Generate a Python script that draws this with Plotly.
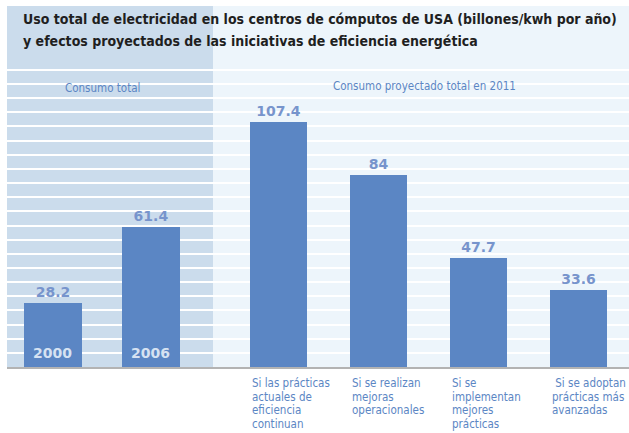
import plotly.graph_objects as go

# ---- data ----
years = ["2000", "2006"]
hist_values = [28.2, 61.4]
scenario_lines = [
    ["Si las prácticas", "actuales de", "eficiencia", "continuan"],
    ["Si se realizan", "mejoras", "operacionales"],
    ["Si se", "implementan", "mejores", "prácticas"],
    [" Si se adoptan", "prácticas más", "avanzadas"],
]
scenarios = [" ".join(l) for l in scenario_lines]
proj_values = [107.4, 84, 47.7, 33.6]
title_lines = [
    "Uso total de electricidad en los centros de cómputos de USA (billones/kwh por año)",
    "y efectos proyectados de las iniciativas de eficiencia energética",
]
left_label = "Consumo total"
right_label = "Consumo proyectado total en 2011"

# ---- styling ----
W, H = 629, 433
TOP, BOTTOM = 66, 367
PLOT_H = BOTTOM - TOP
K = 2.28  # px per unit
YMAX = PLOT_H / K
BAR = "#5b86c4"
LEFT_BG = "#cbdcec"
RIGHT_BG = "#edf5fb"
VAL_C = "#7794cc"
NARROW = "DejaVu Sans Condensed, Roboto, sans-serif"
TITLEF = "DejaVu Sans Condensed, Roboto, sans-serif"
WIDE = "DejaVu Sans, Verdana, sans-serif"

fig = go.Figure()
fig.add_trace(go.Bar(
    x=years, y=hist_values, xaxis="x", yaxis="y", width=0.59,
    marker=dict(color=BAR, line=dict(width=0)),
    texttemplate="%{y}", textposition="outside", cliponaxis=False,
    textfont=dict(family=WIDE, size=14, color=VAL_C, weight="bold"),
    hoverinfo="skip",
))
fig.add_trace(go.Bar(
    x=scenarios, y=proj_values, xaxis="x2", yaxis="y2", width=0.57,
    marker=dict(color=BAR, line=dict(width=0)),
    texttemplate="%{y}", textposition="outside", cliponaxis=False,
    textfont=dict(family=WIDE, size=14, color=VAL_C, weight="bold"),
    hoverinfo="skip",
))

yax = dict(range=[0, YMAX], showgrid=True, gridcolor="white", gridwidth=2,
           tick0=0, dtick=14.15 / K, showticklabels=False, zeroline=False,
           showline=False, ticks="")
xax = dict(type="category", showticklabels=False, showgrid=False, ticks="",
           showline=True, linecolor="#b3b3b3", linewidth=2, zeroline=False)

fig.update_layout(
    width=W, height=H, margin=dict(l=0, r=0, t=TOP, b=H - BOTTOM),
    paper_bgcolor="white", plot_bgcolor="rgba(0,0,0,0)",
    showlegend=False, bargap=0,
    xaxis=dict(xax, domain=[7 / W, 213 / W], range=[-0.469, 1.633], anchor="y"),
    xaxis2=dict(xax, domain=[213 / W, 1], range=[-0.655, 3.505], anchor="y2"),
    yaxis=dict(yax, anchor="x"),
    yaxis2=dict(yax, anchor="x2"),
)

ytop = (BOTTOM - 6) / PLOT_H
fig.add_shape(type="rect", xref="paper", yref="paper", x0=7 / W, x1=213 / W,
              y0=0, y1=ytop, fillcolor=LEFT_BG, line=dict(width=0), layer="below")
fig.add_shape(type="rect", xref="paper", yref="paper", x0=213 / W, x1=1,
              y0=0, y1=ytop, fillcolor=RIGHT_BG, line=dict(width=0), layer="below")

# year labels inside bars (category index positions)
for i, yr in enumerate(years):
    fig.add_annotation(x=i, y=0, xref="x", yref="y", yanchor="bottom", yshift=4,
                       text=yr, showarrow=False,
                       font=dict(family=WIDE, size=14, color="#d6e2f2", weight="bold"))

# scenario labels below bars
for j, lines in enumerate(scenario_lines):
    for i, ln in enumerate(lines):
        fig.add_annotation(x=j, y=0, xref="x2", yref="y2", xanchor="left",
                           yanchor="middle", xshift=-29, yshift=-16 - 13.5 * i,
                           text=ln, showarrow=False, align="left",
                           font=dict(family=NARROW, size=11.5, color=BAR))

# section labels
fig.add_annotation(x=102 / W, y=(BOTTOM - 88) / PLOT_H, xref="paper", yref="paper",
                   xanchor="center", yanchor="middle", text=left_label, showarrow=False,
                   font=dict(family=NARROW, size=11.5, color=BAR))
fig.add_annotation(x=424 / W, y=(BOTTOM - 86) / PLOT_H, xref="paper", yref="paper",
                   xanchor="center", yanchor="middle", text=right_label, showarrow=False,
                   font=dict(family=NARROW, size=11.5, color=BAR))

# title lines
for i, t in enumerate(title_lines):
    fig.add_annotation(x=21 / W, y=(BOTTOM - (19 + 22 * i)) / PLOT_H, xref="paper",
                       yref="paper", xanchor="left", yanchor="middle", text=t,
                       showarrow=False,
                       font=dict(family=TITLEF, size=14, color="#1f1f1f", weight="bold"))

fig.write_html("out.html", config={"displayModeBar": False},
               post_script="document.body.style.margin='0';")
